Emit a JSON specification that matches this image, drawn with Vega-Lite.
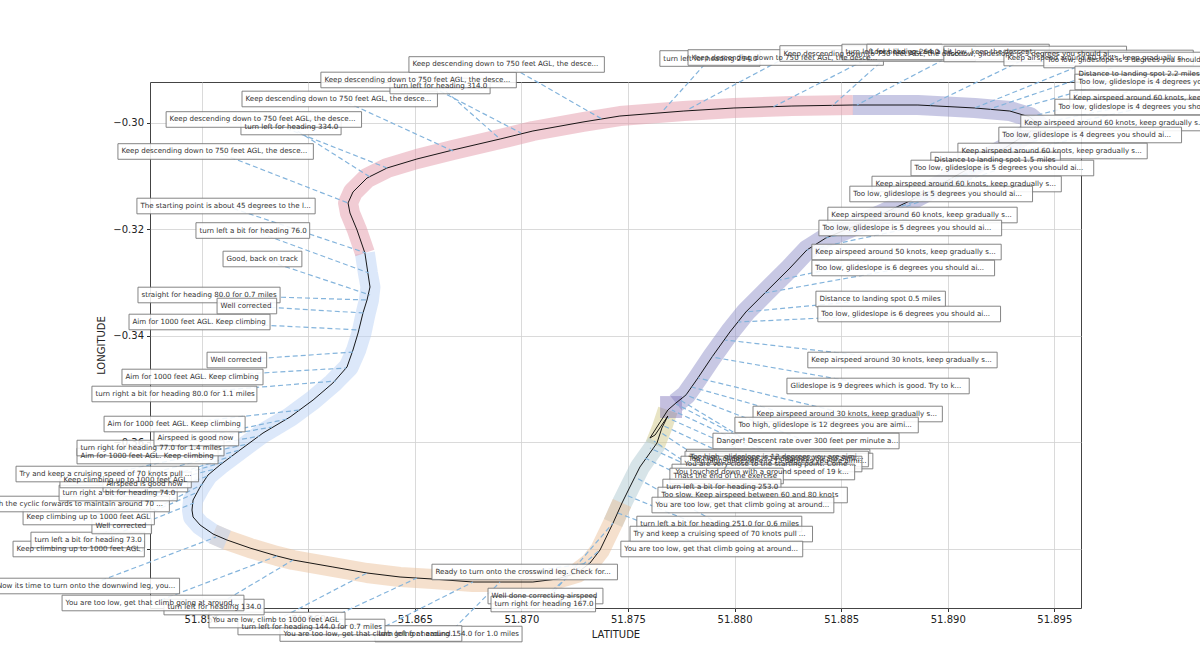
{
"$schema": "https://vega.github.io/schema/vega-lite/v6.json",
"width": 931, "height": 526,
"autosize": {"type": "none"},
"padding": {"left": 150, "top": 82, "right": 119, "bottom": 39},
"background": "white",
"config": {
 "font": "DejaVu Sans",
 "view": {"stroke": "#444", "strokeWidth": 1},
 "axis": {"gridColor": "#d0d0d0", "gridWidth": 0.8, "domain": false, "tickColor": "#333", "tickSize": 3.5, "labelFont": "DejaVu Sans", "labelFontSize": 10, "labelColor": "#222", "titleFont": "DejaVu Sans", "titleFontSize": 10, "titleFontWeight": "normal", "titleColor": "#222", "labelPadding": 3}
},
"datasets": {
 "track": [
  {"seq":1,"lat":51.87687,"lon":-0.35512},{"seq":2,"lat":51.87659,"lon":-0.35737},{"seq":3,"lat":51.87636,"lon":-0.36019},{"seq":4,"lat":51.87556,"lon":-0.36469},{"seq":5,"lat":51.87509,"lon":-0.36845},{"seq":6,"lat":51.87472,"lon":-0.37145},{"seq":7,"lat":51.87430,"lon":-0.37521},{"seq":8,"lat":51.87369,"lon":-0.38028},{"seq":9,"lat":51.87322,"lon":-0.38272},{"seq":10,"lat":51.87261,"lon":-0.38460},
  {"seq":11,"lat":51.87167,"lon":-0.38573},{"seq":12,"lat":51.87054,"lon":-0.38629},{"seq":13,"lat":51.86900,"lon":-0.38629},{"seq":14,"lat":51.86773,"lon":-0.38629},{"seq":15,"lat":51.86585,"lon":-0.38573},{"seq":16,"lat":51.86431,"lon":-0.38535},{"seq":17,"lat":51.86276,"lon":-0.38460},{"seq":18,"lat":51.86116,"lon":-0.38347},{"seq":19,"lat":51.85929,"lon":-0.38216},{"seq":20,"lat":51.85854,"lon":-0.38141},
  {"seq":21,"lat":51.85727,"lon":-0.37991},{"seq":22,"lat":51.85619,"lon":-0.37840},{"seq":23,"lat":51.85554,"lon":-0.37728},{"seq":24,"lat":51.85493,"lon":-0.37559},{"seq":25,"lat":51.85460,"lon":-0.37408},{"seq":26,"lat":51.85455,"lon":-0.37277},{"seq":27,"lat":51.85460,"lon":-0.37089},{"seq":28,"lat":51.85493,"lon":-0.36845},{"seq":29,"lat":51.85530,"lon":-0.36620},{"seq":30,"lat":51.85586,"lon":-0.36432},
  {"seq":31,"lat":51.85680,"lon":-0.36150},{"seq":32,"lat":51.85788,"lon":-0.35831},{"seq":33,"lat":51.85915,"lon":-0.35530},{"seq":34,"lat":51.86023,"lon":-0.35211},{"seq":35,"lat":51.86116,"lon":-0.34892},{"seq":36,"lat":51.86182,"lon":-0.34591},{"seq":37,"lat":51.86210,"lon":-0.34272},{"seq":38,"lat":51.86234,"lon":-0.33953},{"seq":39,"lat":51.86257,"lon":-0.33577},{"seq":40,"lat":51.86276,"lon":-0.33333},
  {"seq":41,"lat":51.86290,"lon":-0.33089},{"seq":42,"lat":51.86280,"lon":-0.32826},{"seq":43,"lat":51.86266,"lon":-0.32450},{"seq":44,"lat":51.86229,"lon":-0.32018},{"seq":45,"lat":51.86196,"lon":-0.31699},{"seq":46,"lat":51.86187,"lon":-0.31511},{"seq":47,"lat":51.86210,"lon":-0.31305},{"seq":48,"lat":51.86276,"lon":-0.31042},{"seq":49,"lat":51.86370,"lon":-0.30854},{"seq":50,"lat":51.86510,"lon":-0.30685},
  {"seq":51,"lat":51.86679,"lon":-0.30516},{"seq":52,"lat":51.86900,"lon":-0.30310},{"seq":53,"lat":51.87054,"lon":-0.30159},{"seq":54,"lat":51.87289,"lon":-0.29990},{"seq":55,"lat":51.87462,"lon":-0.29878},{"seq":56,"lat":51.87762,"lon":-0.29784},{"seq":57,"lat":51.87997,"lon":-0.29727},{"seq":58,"lat":51.88269,"lon":-0.29690},{"seq":59,"lat":51.88555,"lon":-0.29671},{"seq":60,"lat":51.88860,"lon":-0.29671},
  {"seq":61,"lat":51.89127,"lon":-0.29727},{"seq":62,"lat":51.89291,"lon":-0.29784},{"seq":63,"lat":51.89385,"lon":-0.29896},{"seq":64,"lat":51.89423,"lon":-0.30028},{"seq":65,"lat":51.89385,"lon":-0.30178},{"seq":66,"lat":51.89268,"lon":-0.30479},{"seq":67,"lat":51.89127,"lon":-0.30798},{"seq":68,"lat":51.88987,"lon":-0.31117},{"seq":69,"lat":51.88841,"lon":-0.31436},{"seq":70,"lat":51.88682,"lon":-0.31737},
  {"seq":71,"lat":51.88541,"lon":-0.31981},{"seq":72,"lat":51.88428,"lon":-0.32169},{"seq":73,"lat":51.88339,"lon":-0.32394},{"seq":74,"lat":51.88260,"lon":-0.32732},{"seq":75,"lat":51.88142,"lon":-0.33202},{"seq":76,"lat":51.88053,"lon":-0.33558},{"seq":77,"lat":51.87978,"lon":-0.33934},{"seq":78,"lat":51.87894,"lon":-0.34404},{"seq":79,"lat":51.87828,"lon":-0.34798},{"seq":80,"lat":51.87772,"lon":-0.35117},
  {"seq":81,"lat":51.87725,"lon":-0.35267},{"seq":82,"lat":51.87687,"lon":-0.35399},{"seq":83,"lat":51.87603,"lon":-0.35925},{"seq":84,"lat":51.87627,"lon":-0.35868},{"seq":85,"lat":51.87687,"lon":-0.35512}
 ],
 "band": [
  {"phase":"landing","seq":1,"lat":51.87687,"lon":-0.35399},{"phase":"landing","seq":2,"lat":51.87659,"lon":-0.35737},{"phase":"landing","seq":3,"lat":51.87627,"lon":-0.36056},
  {"phase":"climb-out","seq":1,"lat":51.87636,"lon":-0.36019},{"phase":"climb-out","seq":2,"lat":51.87556,"lon":-0.36469},{"phase":"climb-out","seq":3,"lat":51.87509,"lon":-0.36845},{"phase":"climb-out","seq":4,"lat":51.87472,"lon":-0.37145},{"phase":"climb-out","seq":5,"lat":51.87430,"lon":-0.37521},
  {"phase":"crosswind","seq":1,"lat":51.87472,"lon":-0.37145},{"phase":"crosswind","seq":2,"lat":51.87430,"lon":-0.37521},{"phase":"crosswind","seq":3,"lat":51.87369,"lon":-0.38028},{"phase":"crosswind","seq":4,"lat":51.87322,"lon":-0.38272},{"phase":"crosswind","seq":5,"lat":51.87261,"lon":-0.38460},{"phase":"crosswind","seq":6,"lat":51.87167,"lon":-0.38573},{"phase":"crosswind","seq":7,"lat":51.87054,"lon":-0.38629},{"phase":"crosswind","seq":8,"lat":51.86900,"lon":-0.38629},{"phase":"crosswind","seq":9,"lat":51.86773,"lon":-0.38629},{"phase":"crosswind","seq":10,"lat":51.86585,"lon":-0.38573},{"phase":"crosswind","seq":11,"lat":51.86431,"lon":-0.38535},{"phase":"crosswind","seq":12,"lat":51.86276,"lon":-0.38460},{"phase":"crosswind","seq":13,"lat":51.86116,"lon":-0.38347},{"phase":"crosswind","seq":14,"lat":51.85929,"lon":-0.38216},{"phase":"crosswind","seq":15,"lat":51.85854,"lon":-0.38141},{"phase":"crosswind","seq":16,"lat":51.85727,"lon":-0.37991},{"phase":"crosswind","seq":17,"lat":51.85619,"lon":-0.37840},{"phase":"crosswind","seq":18,"lat":51.85554,"lon":-0.37728},
  {"phase":"upwind","seq":1,"lat":51.85619,"lon":-0.37840},{"phase":"upwind","seq":2,"lat":51.85554,"lon":-0.37728},{"phase":"upwind","seq":3,"lat":51.85493,"lon":-0.37559},{"phase":"upwind","seq":4,"lat":51.85460,"lon":-0.37408},{"phase":"upwind","seq":5,"lat":51.85455,"lon":-0.37277},{"phase":"upwind","seq":6,"lat":51.85460,"lon":-0.37089},{"phase":"upwind","seq":7,"lat":51.85493,"lon":-0.36845},{"phase":"upwind","seq":8,"lat":51.85530,"lon":-0.36620},{"phase":"upwind","seq":9,"lat":51.85586,"lon":-0.36432},{"phase":"upwind","seq":10,"lat":51.85680,"lon":-0.36150},{"phase":"upwind","seq":11,"lat":51.85788,"lon":-0.35831},{"phase":"upwind","seq":12,"lat":51.85915,"lon":-0.35530},{"phase":"upwind","seq":13,"lat":51.86023,"lon":-0.35211},{"phase":"upwind","seq":14,"lat":51.86116,"lon":-0.34892},{"phase":"upwind","seq":15,"lat":51.86190,"lon":-0.34591},{"phase":"upwind","seq":16,"lat":51.86225,"lon":-0.34272},{"phase":"upwind","seq":17,"lat":51.86250,"lon":-0.33953},{"phase":"upwind","seq":18,"lat":51.86270,"lon":-0.33577},{"phase":"upwind","seq":19,"lat":51.86285,"lon":-0.33333},{"phase":"upwind","seq":20,"lat":51.86292,"lon":-0.33089},{"phase":"upwind","seq":21,"lat":51.86280,"lon":-0.32826},{"phase":"upwind","seq":22,"lat":51.86266,"lon":-0.32450},
  {"phase":"downwind","seq":1,"lat":51.86266,"lon":-0.32450},{"phase":"downwind","seq":2,"lat":51.86229,"lon":-0.32018},{"phase":"downwind","seq":3,"lat":51.86196,"lon":-0.31699},{"phase":"downwind","seq":4,"lat":51.86187,"lon":-0.31511},{"phase":"downwind","seq":5,"lat":51.86210,"lon":-0.31305},{"phase":"downwind","seq":6,"lat":51.86276,"lon":-0.31042},{"phase":"downwind","seq":7,"lat":51.86370,"lon":-0.30854},{"phase":"downwind","seq":8,"lat":51.86510,"lon":-0.30685},{"phase":"downwind","seq":9,"lat":51.86679,"lon":-0.30516},{"phase":"downwind","seq":10,"lat":51.86900,"lon":-0.30310},{"phase":"downwind","seq":11,"lat":51.87054,"lon":-0.30159},{"phase":"downwind","seq":12,"lat":51.87289,"lon":-0.29990},{"phase":"downwind","seq":13,"lat":51.87462,"lon":-0.29878},{"phase":"downwind","seq":14,"lat":51.87762,"lon":-0.29784},{"phase":"downwind","seq":15,"lat":51.87997,"lon":-0.29727},{"phase":"downwind","seq":16,"lat":51.88269,"lon":-0.29690},{"phase":"downwind","seq":17,"lat":51.88555,"lon":-0.29671},
  {"phase":"final","seq":1,"lat":51.88555,"lon":-0.29671},{"phase":"final","seq":2,"lat":51.88860,"lon":-0.29671},{"phase":"final","seq":3,"lat":51.89127,"lon":-0.29727},{"phase":"final","seq":4,"lat":51.89291,"lon":-0.29784},{"phase":"final","seq":5,"lat":51.89385,"lon":-0.29896},{"phase":"final","seq":6,"lat":51.89423,"lon":-0.30028},{"phase":"final","seq":7,"lat":51.89385,"lon":-0.30178},{"phase":"final","seq":8,"lat":51.89268,"lon":-0.30479},{"phase":"final","seq":9,"lat":51.89127,"lon":-0.30798},{"phase":"final","seq":10,"lat":51.88987,"lon":-0.31117},{"phase":"final","seq":11,"lat":51.88841,"lon":-0.31436},{"phase":"final","seq":12,"lat":51.88682,"lon":-0.31737},{"phase":"final","seq":13,"lat":51.88541,"lon":-0.31981},{"phase":"final","seq":14,"lat":51.88428,"lon":-0.32169},{"phase":"final","seq":15,"lat":51.88339,"lon":-0.32394},{"phase":"final","seq":16,"lat":51.88260,"lon":-0.32732},{"phase":"final","seq":17,"lat":51.88142,"lon":-0.33202},{"phase":"final","seq":18,"lat":51.88053,"lon":-0.33558},{"phase":"final","seq":19,"lat":51.87978,"lon":-0.33934},{"phase":"final","seq":20,"lat":51.87894,"lon":-0.34404},{"phase":"final","seq":21,"lat":51.87828,"lon":-0.34798},{"phase":"final","seq":22,"lat":51.87772,"lon":-0.35117},{"phase":"final","seq":23,"lat":51.87725,"lon":-0.35267}
 ],
 "spot": [{"lat":51.87702,"lon":-0.35343}],
 "labels": [
  {"text":"turn left for heading 294.0","text_lat":51.87666,"text_lon":-0.28798,"lat":51.87659,"lon":-0.29802},
  {"text":"Keep descending down to 750 feet AGL, the desce...","text_lat":51.87798,"text_lon":-0.28779,"lat":51.87777,"lon":-0.29765},
  {"text":"Keep descending down to 750 feet AGL, the desce...","text_lat":51.88229,"text_lon":-0.28704,"lat":51.88180,"lon":-0.29709},
  {"text":"turn left for heading 264.0","text_lat":51.88520,"text_lon":-0.28676,"lat":51.88457,"lon":-0.29690},
  {"text":"Looks like you are a bit low, keep the descent ...","text_lat":51.88637,"text_lon":-0.28676,"lat":51.88574,"lon":-0.29671},
  {"text":"Too low, glideslope is  3 degrees you should ai...","text_lat":51.88998,"text_lon":-0.28713,"lat":51.88916,"lon":-0.29671},
  {"text":"Keep airspeed around 60 knots, keep gradually s...","text_lat":51.89280,"text_lon":-0.28788,"lat":51.89127,"lon":-0.29727},
  {"text":"Too low, glideslope is  3 degrees you should ai...","text_lat":51.89467,"text_lon":-0.28826,"lat":51.89198,"lon":-0.29746},
  {"text":"Distance to landing spot 2.2 miles","text_lat":51.89613,"text_lon":-0.29089,"lat":51.89291,"lon":-0.29784},
  {"text":"Too low, glideslope is  4 degrees you should ai...","text_lat":51.89613,"text_lon":-0.29239,"lat":51.89385,"lon":-0.29896},
  {"text":"Keep airspeed around 60 knots, keep gradually s...","text_lat":51.89589,"text_lon":-0.29540,"lat":51.89423,"lon":-0.30028},
  {"text":"Too low, glideslope is  4 degrees you should ai...","text_lat":51.89519,"text_lon":-0.29709,"lat":51.89385,"lon":-0.30178},
  {"text":"Keep airspeed around 60 knots, keep gradually s...","text_lat":51.89359,"text_lon":-0.30009,"lat":51.89268,"lon":-0.30479},
  {"text":"Too low, glideslope is  4 degrees you should ai...","text_lat":51.89256,"text_lon":-0.30234,"lat":51.89165,"lon":-0.30723},
  {"text":"Keep airspeed around 60 knots, keep gradually s...","text_lat":51.89064,"text_lon":-0.30535,"lat":51.89010,"lon":-0.31061},
  {"text":"Distance to landing spot 1.5 miles","text_lat":51.88937,"text_lon":-0.30704,"lat":51.88916,"lon":-0.31267},
  {"text":"Too low, glideslope is  5 degrees you should ai...","text_lat":51.88844,"text_lon":-0.30854,"lat":51.88841,"lon":-0.31436},
  {"text":"Keep airspeed around 60 knots, keep gradually s...","text_lat":51.88661,"text_lon":-0.31155,"lat":51.88729,"lon":-0.31643},
  {"text":"Too low, glideslope is  5 degrees you should ai...","text_lat":51.88557,"text_lon":-0.31342,"lat":51.88616,"lon":-0.31849},
  {"text":"Keep airspeed around 60 knots, keep gradually s...","text_lat":51.88454,"text_lon":-0.31737,"lat":51.88428,"lon":-0.32169},
  {"text":"Too low, glideslope is  5 degrees you should ai...","text_lat":51.88412,"text_lon":-0.31981,"lat":51.88339,"lon":-0.32394},
  {"text":"Keep airspeed around 50 knots, keep gradually s...","text_lat":51.88379,"text_lon":-0.32432,"lat":51.88213,"lon":-0.32957},
  {"text":"Too low, glideslope is  6 degrees you should ai...","text_lat":51.88379,"text_lon":-0.32732,"lat":51.88142,"lon":-0.33202},
  {"text":"Distance to landing spot 0.5 miles","text_lat":51.88398,"text_lon":-0.33314,"lat":51.88053,"lon":-0.33558},
  {"text":"Too low, glideslope is  6 degrees you should ai...","text_lat":51.88407,"text_lon":-0.33596,"lat":51.88016,"lon":-0.33746},
  {"text":"Keep airspeed around 30 knots, keep gradually s...","text_lat":51.88360,"text_lon":-0.34460,"lat":51.87955,"lon":-0.34084},
  {"text":"Glideslope is 9 degrees which is good. Try to k...","text_lat":51.88262,"text_lon":-0.34948,"lat":51.87894,"lon":-0.34404},
  {"text":"Keep airspeed around 30 knots, keep gradually s...","text_lat":51.88103,"text_lon":-0.35474,"lat":51.87828,"lon":-0.34798},
  {"text":"Too high, glideslope is 12 degrees you are aimi...","text_lat":51.88018,"text_lon":-0.35681,"lat":51.87800,"lon":-0.34967},
  {"text":"Danger! Descent rate over 300 feet per minute a...","text_lat":51.87915,"text_lon":-0.35981,"lat":51.87772,"lon":-0.35117},
  {"text":"Too high, glideslope is 13 degrees you are aimi...","text_lat":51.87791,"text_lon":-0.36282,"lat":51.87725,"lon":-0.35286},
  {"text":"Too high, glideslope is 15 degrees you are aimi...","text_lat":51.87805,"text_lon":-0.36357,"lat":51.87744,"lon":-0.35211},
  {"text":"Too high, glideslope is 14 degrees you are aimi...","text_lat":51.87784,"text_lon":-0.36319,"lat":51.87706,"lon":-0.35399},
  {"text":"You are very close to the starting point. Come ...","text_lat":51.87765,"text_lon":-0.36413,"lat":51.87687,"lon":-0.35549},
  {"text":"You touched down with a ground speed of 19 k...","text_lat":51.87723,"text_lon":-0.36563,"lat":51.87669,"lon":-0.35699},
  {"text":"Thats the end of the exercise","text_lat":51.87713,"text_lon":-0.36638,"lat":51.87650,"lon":-0.35812},
  {"text":"turn left a bit for heading 253.0","text_lat":51.87680,"text_lon":-0.36845,"lat":51.87622,"lon":-0.35981},
  {"text":"Too slow. Keep airspeed between 60 and 80 knots","text_lat":51.87657,"text_lon":-0.36995,"lat":51.87603,"lon":-0.36113},
  {"text":"You are too low, get that climb going at around...","text_lat":51.87629,"text_lon":-0.37183,"lat":51.87580,"lon":-0.36300},
  {"text":"turn left a bit for heading 251.0 for 0.6 miles","text_lat":51.87558,"text_lon":-0.37540,"lat":51.87533,"lon":-0.36657},
  {"text":"Try and keep a cruising speed of 70 knots pull ...","text_lat":51.87526,"text_lon":-0.37728,"lat":51.87490,"lon":-0.36995},
  {"text":"You are too low, get that climb going at around...","text_lat":51.87483,"text_lon":-0.38009,"lat":51.87453,"lon":-0.37333},
  {"text":"Ready to turn onto the crosswind leg. Check for...","text_lat":51.86597,"text_lon":-0.38441,"lat":51.87322,"lon":-0.38272},
  {"text":"Well done correcting airspeed","text_lat":51.86860,"text_lon":-0.38892,"lat":51.87369,"lon":-0.38028},
  {"text":"turn right for heading 167.0","text_lat":51.86874,"text_lon":-0.39042,"lat":51.87430,"lon":-0.37521},
  {"text":"turn left for heading 154.0 for 1.0 miles","text_lat":51.86330,"text_lon":-0.39606,"lat":51.86900,"lon":-0.38629},
  {"text":"You are too low, get that climb going at around...","text_lat":51.85884,"text_lon":-0.39596,"lat":51.86773,"lon":-0.38629},
  {"text":"turn left for heading 144.0 for 0.7 miles","text_lat":51.85687,"text_lon":-0.39474,"lat":51.86510,"lon":-0.38554},
  {"text":"You are low, climb to 1000 feet AGL","text_lat":51.85551,"text_lon":-0.39343,"lat":51.86276,"lon":-0.38460},
  {"text":"turn left for heading 134.0","text_lat":51.85340,"text_lon":-0.39099,"lat":51.85929,"lon":-0.38216},
  {"text":"You are too low, get that climb going at around...","text_lat":51.84862,"text_lon":-0.39023,"lat":51.85854,"lon":-0.38141},
  {"text":"Now its time to turn onto the downwind leg, you...","text_lat":51.84540,"text_lon":-0.38704,"lat":51.85568,"lon":-0.37784},
  {"text":"Keep climbing up to 1000 feet AGL","text_lat":51.84632,"text_lon":-0.38009,"lat":51.85464,"lon":-0.37145},
  {"text":"turn left a bit for heading 73.0","text_lat":51.84716,"text_lon":-0.37840,"lat":51.85483,"lon":-0.36939},
  {"text":"Well corrected","text_lat":51.85002,"text_lon":-0.37577,"lat":51.85507,"lon":-0.36789},
  {"text":"Keep climbing up to 1000 feet AGL","text_lat":51.84679,"text_lon":-0.37408,"lat":51.85530,"lon":-0.36638},
  {"text":"Push the cyclic forwards to maintain around 70 ...","text_lat":51.84491,"text_lon":-0.37164,"lat":51.85563,"lon":-0.36507},
  {"text":"turn right a bit for heading 74.0","text_lat":51.84848,"text_lon":-0.36958,"lat":51.85605,"lon":-0.36375},
  {"text":"Airspeed is good now","text_lat":51.85054,"text_lon":-0.36789,"lat":51.85643,"lon":-0.36263},
  {"text":"Keep climbing up to 1000 feet AGL","text_lat":51.84852,"text_lon":-0.36713,"lat":51.85680,"lon":-0.36150},
  {"text":"Try and keep a cruising speed of 70 knots pull ...","text_lat":51.84646,"text_lon":-0.36601,"lat":51.85718,"lon":-0.36037},
  {"text":"Aim for 1000 feet AGL. Keep climbing","text_lat":51.84932,"text_lon":-0.36263,"lat":51.85774,"lon":-0.35887},
  {"text":"turn right for heading 77.0 for 1.4 miles","text_lat":51.84932,"text_lon":-0.36113,"lat":51.85830,"lon":-0.35718},
  {"text":"Airspeed is good now","text_lat":51.85293,"text_lon":-0.35925,"lat":51.85901,"lon":-0.35568},
  {"text":"Aim for 1000 feet AGL. Keep climbing","text_lat":51.85059,"text_lon":-0.35662,"lat":51.85962,"lon":-0.35399},
  {"text":"turn right a bit for heading 80.0 for 1.1 miles","text_lat":51.85002,"text_lon":-0.35098,"lat":51.86130,"lon":-0.34854},
  {"text":"Aim for 1000 feet AGL. Keep climbing","text_lat":51.85143,"text_lon":-0.34779,"lat":51.86177,"lon":-0.34610},
  {"text":"Well corrected","text_lat":51.85542,"text_lon":-0.34460,"lat":51.86210,"lon":-0.34310},
  {"text":"Aim for 1000 feet AGL. Keep climbing","text_lat":51.85176,"text_lon":-0.33746,"lat":51.86243,"lon":-0.33896},
  {"text":"straight for heading 80.0 for 0.7 miles","text_lat":51.85218,"text_lon":-0.33239,"lat":51.86280,"lon":-0.33333},
  {"text":"Well corrected","text_lat":51.85589,"text_lon":-0.33446,"lat":51.86262,"lon":-0.33577},
  {"text":"Good, back on track","text_lat":51.85617,"text_lon":-0.32563,"lat":51.86290,"lon":-0.33239},
  {"text":"turn left a bit for heading 76.0","text_lat":51.85490,"text_lon":-0.32028,"lat":51.86285,"lon":-0.32826},
  {"text":"The starting point is about 45 degrees to the l...","text_lat":51.85213,"text_lon":-0.31568,"lat":51.86271,"lon":-0.32450},
  {"text":"Keep descending down to 750 feet AGL, the desce...","text_lat":51.85124,"text_lon":-0.30544,"lat":51.86187,"lon":-0.31511},
  {"text":"turn left for heading 334.0","text_lat":51.85701,"text_lon":-0.30084,"lat":51.86290,"lon":-0.31023},
  {"text":"Keep descending down to 750 feet AGL, the desce...","text_lat":51.85350,"text_lon":-0.29943,"lat":51.86370,"lon":-0.30854},
  {"text":"Keep descending down to 750 feet AGL, the desce...","text_lat":51.85706,"text_lon":-0.29558,"lat":51.86679,"lon":-0.30535},
  {"text":"turn left for heading 314.0","text_lat":51.86400,"text_lon":-0.29314,"lat":51.86900,"lon":-0.30310},
  {"text":"Keep descending down to 750 feet AGL, the desce...","text_lat":51.86076,"text_lon":-0.29201,"lat":51.86998,"lon":-0.30197},
  {"text":"Keep descending down to 750 feet AGL, the desce...","text_lat":51.86489,"text_lon":-0.28910,"lat":51.87378,"lon":-0.29934}
 ]
},
"layer": [
 {
  "data": {"name": "band"},
  "mark": {"type": "line", "strokeWidth": 20, "opacity": 0.5, "strokeCap": "butt", "strokeJoin": "round"},
  "encoding": {
   "x": {"field": "lat", "type": "quantitative", "title": "LATITUDE", "scale": {"domain": [51.85258, 51.89625], "nice": false, "zero": false},
         "axis": {"values": [51.855, 51.86, 51.865, 51.87, 51.875, 51.88, 51.885, 51.89, 51.895], "format": ".3f", "titlePadding": 5}},
   "y": {"field": "lon", "type": "quantitative", "title": "LONGITUDE", "scale": {"domain": [-0.39117, -0.29239], "nice": false, "zero": false},
         "axis": {"values": [-0.30, -0.32, -0.34, -0.36, -0.38], "format": ".2f", "titlePadding": 6}},
   "order": {"field": "seq", "type": "quantitative"},
   "color": {"field": "phase", "type": "nominal", "legend": null,
             "scale": {"domain": ["landing", "climb-out", "crosswind", "upwind", "downwind", "final"], "range": ["#d1c989", "#afc9d1", "#ebc19b", "#b9d1f5", "#e399a9", "#9191c9"]}}
  }
 },
 {
  "data": {"name": "spot"},
  "mark": {"type": "point", "shape": "square", "filled": true, "size": 480, "color": "#7d70b8", "opacity": 0.45},
  "encoding": {
   "x": {"field": "lat", "type": "quantitative", "title": "LATITUDE", "scale": {"domain": [51.85258, 51.89625], "nice": false, "zero": false}},
   "y": {"field": "lon", "type": "quantitative", "title": "LONGITUDE", "scale": {"domain": [-0.39117, -0.29239], "nice": false, "zero": false}}
  }
 },
 {
  "data": {"name": "track"},
  "mark": {"type": "line", "color": "black", "strokeWidth": 0.9},
  "encoding": {
   "x": {"field": "lat", "type": "quantitative", "title": "LATITUDE", "scale": {"domain": [51.85258, 51.89625], "nice": false, "zero": false}},
   "y": {"field": "lon", "type": "quantitative", "title": "LONGITUDE", "scale": {"domain": [-0.39117, -0.29239], "nice": false, "zero": false}},
   "order": {"field": "seq", "type": "quantitative"}
  }
 },
 {
  "data": {"name": "labels"},
  "mark": {"type": "rule", "color": "#84b4dc", "strokeWidth": 1.2, "strokeDash": [5, 3],
           "xOffset": {"expr": "3.55*(0.62*length(datum.text)-0.32*length(replace(datum.text,regexp('[^ il.,!:;|Ij]','g'),''))-0.23*length(replace(datum.text,regexp('[^tfr]','g'),''))+0.3*length(replace(datum.text,regexp('[^mwMW]','g'),''))+0.08*length(replace(datum.text,regexp('[^A-Z]','g'),'')))"}},
  "encoding": {
   "x": {"field": "text_lat", "type": "quantitative", "title": "LATITUDE", "scale": {"domain": [51.85258, 51.89625], "nice": false, "zero": false}},
   "y": {"field": "text_lon", "type": "quantitative", "title": "LONGITUDE", "scale": {"domain": [-0.39117, -0.29239], "nice": false, "zero": false}},
   "x2": {"field": "lat"},
   "y2": {"field": "lon"}
  }
 },
 {
  "data": {"name": "labels"},
  "mark": {"type": "rect", "fill": "white", "fillOpacity": 0.88, "stroke": "#777", "strokeWidth": 0.9,
           "xOffset": -3.5, "yOffset": -7.8, "y2Offset": 7.8,
           "x2Offset": {"expr": "3.5+7.1*(0.62*length(datum.text)-0.32*length(replace(datum.text,regexp('[^ il.,!:;|Ij]','g'),''))-0.23*length(replace(datum.text,regexp('[^tfr]','g'),''))+0.3*length(replace(datum.text,regexp('[^mwMW]','g'),''))+0.08*length(replace(datum.text,regexp('[^A-Z]','g'),'')))"}},
  "encoding": {
   "x": {"field": "text_lat", "type": "quantitative", "title": "LATITUDE", "scale": {"domain": [51.85258, 51.89625], "nice": false, "zero": false}},
   "y": {"field": "text_lon", "type": "quantitative", "title": "LONGITUDE", "scale": {"domain": [-0.39117, -0.29239], "nice": false, "zero": false}},
   "x2": {"field": "text_lat"},
   "y2": {"field": "text_lon"}
  }
 },
 {
  "data": {"name": "labels"},
  "mark": {"type": "text", "align": "left", "baseline": "middle", "font": "DejaVu Sans", "fontSize": 7.1, "color": "#333"},
  "encoding": {
   "x": {"field": "text_lat", "type": "quantitative", "title": "LATITUDE", "scale": {"domain": [51.85258, 51.89625], "nice": false, "zero": false}},
   "y": {"field": "text_lon", "type": "quantitative", "title": "LONGITUDE", "scale": {"domain": [-0.39117, -0.29239], "nice": false, "zero": false}},
   "text": {"field": "text"}
  }
 }
]
}
